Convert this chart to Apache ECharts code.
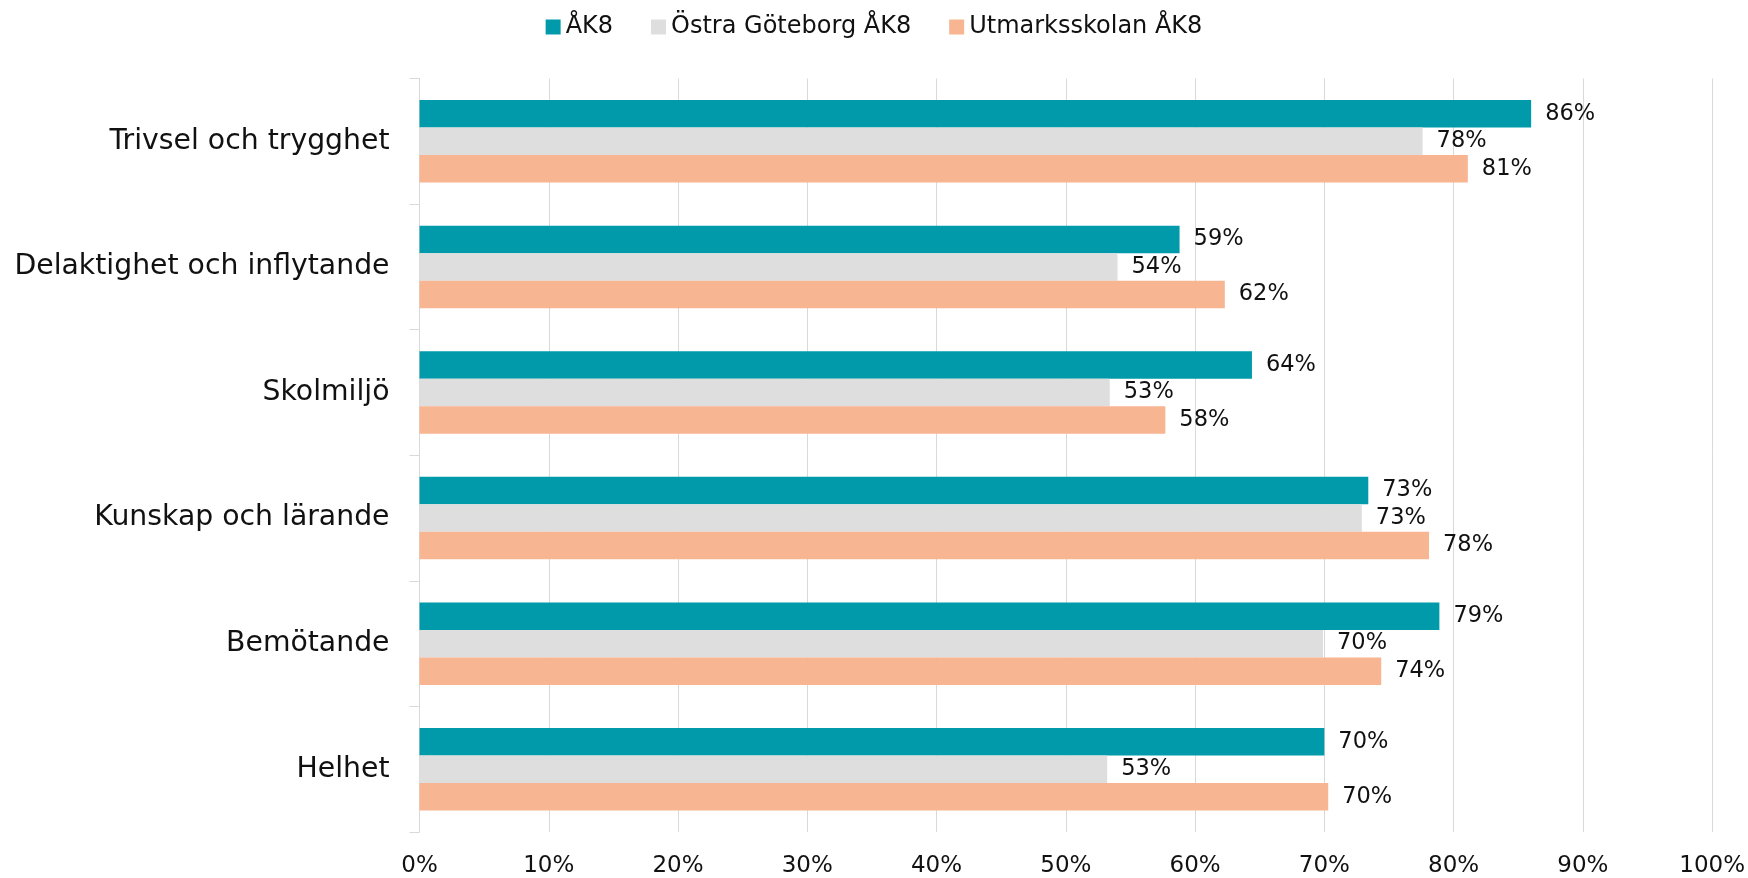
<!DOCTYPE html>
<html>
<head>
<meta charset="utf-8">
<script src="https://cdn.jsdelivr.net/npm/echarts@6/dist/echarts.min.js"></script>
<style>
html,body{margin:0;padding:0;background:#fff;}
#chart{width:1748px;height:878px;}
</style>
</head>
<body>
<div id="chart"></div>
<script>
const categories = ['Trivsel och trygghet', 'Delaktighet och inflytande', 'Skolmiljö', 'Kunskap och lärande', 'Bemötande', 'Helhet'];
const seriesNames = ['ÅK8', 'Östra Göteborg ÅK8', 'Utmarksskolan ÅK8'];
const ak8 = [86.0, 58.8, 64.4, 73.4, 78.9, 70.0];
const ostraGoteborg = [77.6, 54.0, 53.4, 72.9, 69.9, 53.2];
const utmarksskolan = [81.1, 62.3, 57.7, 78.1, 74.4, 70.3];
const xTicks = [0, 10, 20, 30, 40, 50, 60, 70, 80, 90, 100];
const colors = ['#009AAA', '#DEDEDE', '#F8B591'];

const FONT = 'DejaVu Sans';
const chart = echarts.init(document.getElementById('chart'));
const mk = (name, data, color) => ({
  name, type: 'bar', data,
  barWidth: 27.5, barGap: '0%',
  itemStyle: { color },
  label: {
    show: true, position: 'right', distance: 14,
    formatter: p => Math.round(p.value) + '%',
    color: '#111', fontFamily: FONT, fontSize: 22.5
  }
});
chart.setOption({
  animation: false,
  color: colors,
  legend: {
    top: 10, left: 'center',
    itemWidth: 15, itemHeight: 15, itemGap: 38,
    icon: 'rect',
    textStyle: { fontFamily: FONT, fontSize: 24, color: '#111', padding: [0, 0, 0, 0] },
    data: seriesNames
  },
  grid: { left: 419.5, right: 34.5, top: 78.5, bottom: 45.3, containLabel: false },
  xAxis: {
    type: 'value', min: xTicks[0], max: xTicks[xTicks.length - 1], interval: 10,
    axisLine: { show: false }, axisTick: { show: false },
    splitLine: { show: true, lineStyle: { color: '#D9D9D9', width: 1 } },
    axisLabel: { formatter: v => v + '%', fontFamily: FONT, fontSize: 23, color: '#111', margin: 23 }
  },
  yAxis: {
    type: 'category', data: categories, inverse: true,
    axisLine: { show: true, lineStyle: { color: '#D9D9D9', width: 1 } },
    axisTick: { show: true, length: 10, lineStyle: { color: '#D9D9D9' } },
    axisLabel: { fontFamily: FONT, fontSize: 28.3, color: '#111', margin: 30 }
  },
  series: [
    mk(seriesNames[0], ak8, colors[0]),
    mk(seriesNames[1], ostraGoteborg, colors[1]),
    mk(seriesNames[2], utmarksskolan, colors[2])
  ]
});
</script>
</body>
</html>
